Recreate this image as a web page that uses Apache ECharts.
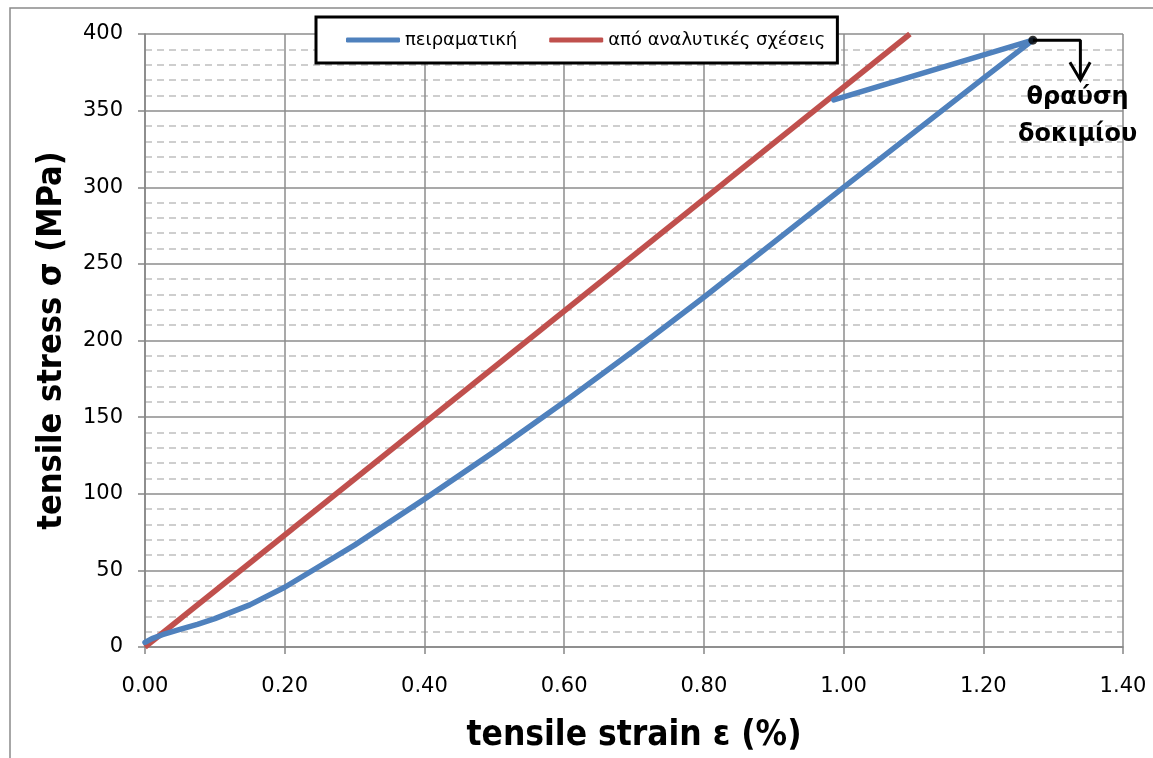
<!DOCTYPE html>
<html>
<head>
<meta charset="utf-8">
<script src="https://cdn.jsdelivr.net/npm/echarts@6/dist/echarts.min.js"></script>
<style>
  html, body { margin: 0; padding: 0; background: #fff; }
  #chart { width: 1153px; height: 758px; }
</style>
</head>
<body>
<div id="chart"></div>
<script>
// πειραματική (measured curve), strain % / stress MPa
var strainExp = [0, 0.01, 0.025, 0.05, 0.075, 0.1, 0.15, 0.2, 0.3, 0.4, 0.5, 0.6, 0.7, 0.8, 0.9, 1.0, 1.1, 1.2, 1.271, 0.986]
var stressExp = [3, 5.5, 8, 11.5, 14.8, 18.5, 27.5, 39, 66.5, 96.5, 127.5, 159.8, 193.5, 228.2, 264, 299.9, 335.5, 371, 396, 357]

// από αναλυτικές σχέσεις (analytical line)
var strainCalc = [0, 1.095]
var stressCalc = [0, 400]

// fracture marker + arrow
var breakPoint = [1.271, 396]
var arrowPath = [[1.271, 396], [1.339, 396], [1.339, 370]]
var arrowHead = [[1.324, 381.5], [1.339, 370], [1.353, 381.5]]
var breakLabelPos = [1.335, 346]
var breakLabel = 'θραύση\nδοκιμίου'

var names = ['πειραματική', 'από αναλυτικές σχέσεις']

function zip(xs, ys) {
  var out = []
  for (var i = 0; i < xs.length; i++) out.push([xs[i], ys[i]])
  return out
}

var titleFont = "'Liberation Sans Narrow', 'DejaVu Sans Condensed', sans-serif"
var tickFont = "'DejaVu Sans', sans-serif"

var chart = echarts.init(document.getElementById('chart'), null, { renderer: 'canvas' })

var option = {
  animation: false,
  backgroundColor: '#fff',
  graphic: [{
    id: 'frame',
    type: 'rect',
    shape: { x: 10, y: 8, width: 1300, height: 900 },
    style: { fill: 'none', stroke: '#8a8a8a', lineWidth: 1.5 },
    silent: true
  }],
  legend: {
    data: names,
    left: 316,
    top: 17,
    padding: [14, 12, 14, 30],
    itemGap: 32,
    itemWidth: 54,
    itemHeight: 5,
    icon: 'roundRect',
    borderColor: '#000',
    borderWidth: 3,
    backgroundColor: '#fff',
    textStyle: { fontFamily: tickFont, fontSize: 18, color: '#000' }
  },
  grid: { left: 145, right: 30, top: 34, bottom: 111, containLabel: false },
  xAxis: {
    type: 'value',
    min: 0,
    max: 1.4,
    interval: 0.2,
    name: 'tensile strain ε (%)',
    nameLocation: 'middle',
    nameGap: 71,
    nameTextStyle: { fontFamily: titleFont, fontWeight: 'bold', fontSize: 35, color: '#000' },
    axisLine: { show: true, lineStyle: { color: '#868686', width: 1.5 } },
    axisTick: { show: true, length: 7, lineStyle: { color: '#868686', width: 1.5 } },
    axisLabel: {
      margin: 29,
      fontFamily: tickFont, fontSize: 21, color: '#000',
      formatter: function (v) { return v.toFixed(2) }
    },
    splitLine: { show: true, lineStyle: { color: '#8c8c8c', width: 1.5 } }
  },
  yAxis: {
    type: 'value',
    min: 0,
    max: 400,
    interval: 50,
    name: 'tensile stress σ (MPa)',
    nameLocation: 'middle',
    nameGap: 76,
    nameTextStyle: { fontFamily: titleFont, fontWeight: 'bold', fontSize: 34, color: '#000' },
    axisLine: { show: true, lineStyle: { color: '#868686', width: 1.5 } },
    axisTick: { show: true, length: 7, lineStyle: { color: '#868686', width: 1.5 } },
    axisLabel: { margin: 22, fontFamily: tickFont, fontSize: 21, color: '#000' },
    splitLine: { show: true, lineStyle: { color: '#8c8c8c', width: 1.5 } },
    minorTick: { show: false, splitNumber: 5 },
    minorSplitLine: { show: true, lineStyle: { color: '#bfbfbf', width: 1.5, type: [7, 5] } }
  },
  series: [
    {
      name: names[1],
      type: 'line',
      data: zip(strainCalc, stressCalc),
      symbol: 'none',
      lineStyle: { color: '#C0504D', width: 5.5 },
      itemStyle: { color: '#C0504D' },
      z: 3
    },
    {
      name: names[0],
      type: 'line',
      data: zip(strainExp, stressExp),
      symbol: 'none',
      lineStyle: { color: '#4F81BD', width: 5.5, cap: 'round', join: 'round' },
      itemStyle: { color: '#4F81BD' },
      z: 4
    },
    {
      name: 'arrow',
      type: 'line',
      data: arrowPath,
      symbol: 'none',
      lineStyle: { color: '#000', width: 3 },
      z: 5,
      silent: true
    },
    {
      name: 'arrowHead',
      type: 'line',
      data: arrowHead,
      symbol: 'none',
      lineStyle: { color: '#000', width: 3, join: 'miter' },
      z: 5,
      silent: true
    },
    {
      name: 'break',
      type: 'scatter',
      data: [breakPoint],
      symbol: 'circle',
      symbolSize: 9,
      itemStyle: { color: '#000' },
      z: 6,
      silent: true
    }
  ]
}

chart.setOption(option)

// annotation text placed at data position
var p = chart.convertToPixel({ gridIndex: 0 }, breakLabelPos)
chart.setOption({
  graphic: [{
    id: 'breakText',
    type: 'text',
    x: p[0],
    y: p[1],
    silent: true,
    z: 10,
    style: {
      text: breakLabel,
      fontFamily: tickFont,
      fontWeight: 'bold',
      fontSize: 24,
      lineHeight: 37,
      fill: '#000',
      align: 'center',
      verticalAlign: 'middle'
    }
  }]
})
</script>
</body>
</html>
